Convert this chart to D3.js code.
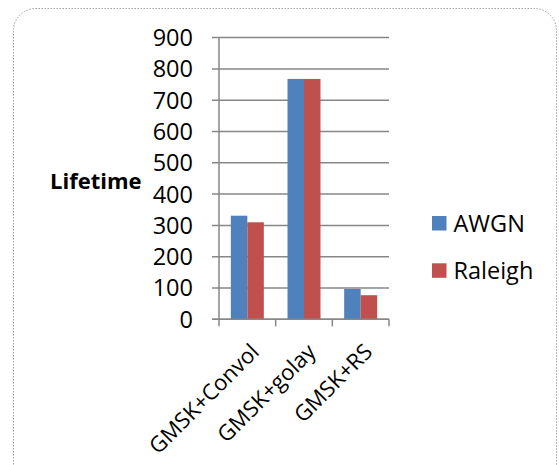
<!DOCTYPE html>
<html>
<head>
<meta charset="utf-8">
<script src="https://cdn.jsdelivr.net/npm/d3@7"></script>
<style>
  html, body { margin: 0; padding: 0; background: #fff; }
  svg { display: block; font-family: "Open Sans", "Noto Sans", sans-serif; }
</style>
</head>
<body>
<svg id="chart" width="559" height="465"></svg>
<script>
// Chart data
const categories = ["GMSK+Convol", "GMSK+golay", "GMSK+RS"];
const seriesNames = ["AWGN", "Raleigh"];
const awgn = [331, 768, 97];
const raleigh = [310, 768, 77];
const yTicks = [0, 100, 200, 300, 400, 500, 600, 700, 800, 900];
const colors = ["#4f81bd", "#c0504d"];

const svg = d3.select("#chart");

// Outer chart frame
svg.append("rect")
  .attr("x", 13.5).attr("y", 8.5)
  .attr("width", 543).attr("height", 480)
  .attr("rx", 22).attr("ry", 22)
  .attr("fill", "#fff")
  .attr("stroke", "#a0a0a0")
  .attr("stroke-width", 1)
  .attr("stroke-dasharray", "1.5,1.5");

const plot = { left: 219, right: 389, top: 37.6, bottom: 319.3 };

const x = d3.scaleBand().domain(categories).range([plot.left, plot.right]);
const y = d3.scaleLinear().domain([0, 900]).range([plot.bottom, plot.top]);

// Horizontal gridlines with left tick stubs
svg.append("g").selectAll("line").data(yTicks).join("line")
  .attr("x1", plot.left - 7).attr("x2", plot.right)
  .attr("y1", d => y(d)).attr("y2", d => y(d))
  .attr("stroke", "#878787").attr("stroke-width", 1.5);

// Value axis labels
svg.append("g").selectAll("text").data(yTicks).join("text")
  .attr("x", 193).attr("y", d => y(d))
  .attr("dy", "0.36em")
  .attr("text-anchor", "end")
  .attr("font-size", 23.5)
  .attr("fill", "#000")
  .text(d => d);

// Bars
const series = [awgn, raleigh];
const barW = 16.5;
const groupW = barW * 2;
series.forEach((vals, si) => {
  svg.append("g").selectAll("rect").data(categories).join("rect")
    .attr("x", (c) => x(c) + (x.bandwidth() - groupW) / 2 + si * barW)
    .attr("y", (c, i) => y(vals[i]))
    .attr("width", barW)
    .attr("height", (c, i) => y(0) - y(vals[i]))
    .attr("fill", colors[si]);
});

// Category axis line and tick marks
svg.append("line")
  .attr("x1", plot.left).attr("x2", plot.left)
  .attr("y1", plot.top).attr("y2", plot.bottom)
  .attr("stroke", "#878787").attr("stroke-width", 1.5);
svg.append("line")
  .attr("x1", plot.left - 7).attr("x2", plot.right)
  .attr("y1", plot.bottom).attr("y2", plot.bottom)
  .attr("stroke", "#878787").attr("stroke-width", 1.5);
const tickXs = categories.map(c => x(c)).concat([plot.right]);
svg.append("g").selectAll("line").data(tickXs).join("line")
  .attr("x1", d => d).attr("x2", d => d)
  .attr("y1", plot.bottom).attr("y2", plot.bottom + 7)
  .attr("stroke", "#878787").attr("stroke-width", 1.5);

// Rotated category labels
svg.append("g").selectAll("text").data(categories).join("text")
  .attr("transform", c => `translate(${x(c) + x.bandwidth() / 2 + 13},${plot.bottom + 34}) rotate(-45)`)
  .attr("text-anchor", "end")
  .attr("font-size", 22)
  .attr("fill", "#000")
  .text(c => c);

// Axis title
svg.append("text")
  .attr("x", 50).attr("y", 181)
  .attr("dy", "0.36em")
  .attr("font-size", 22)
  .attr("font-weight", "bold")
  .attr("fill", "#000")
  .text("Lifetime");

// Legend
const legend = svg.append("g").selectAll("g").data(seriesNames).join("g")
  .attr("transform", (d, i) => `translate(432,${216 + i * 47.3})`);
legend.append("rect")
  .attr("width", 14.5).attr("height", 14.5)
  .attr("fill", (d, i) => colors[i]);
legend.append("text")
  .attr("x", 21.5).attr("y", 7.5)
  .attr("dy", "0.36em")
  .attr("font-size", 23.5)
  .attr("fill", "#000")
  .text(d => d);
</script>
</body>
</html>
